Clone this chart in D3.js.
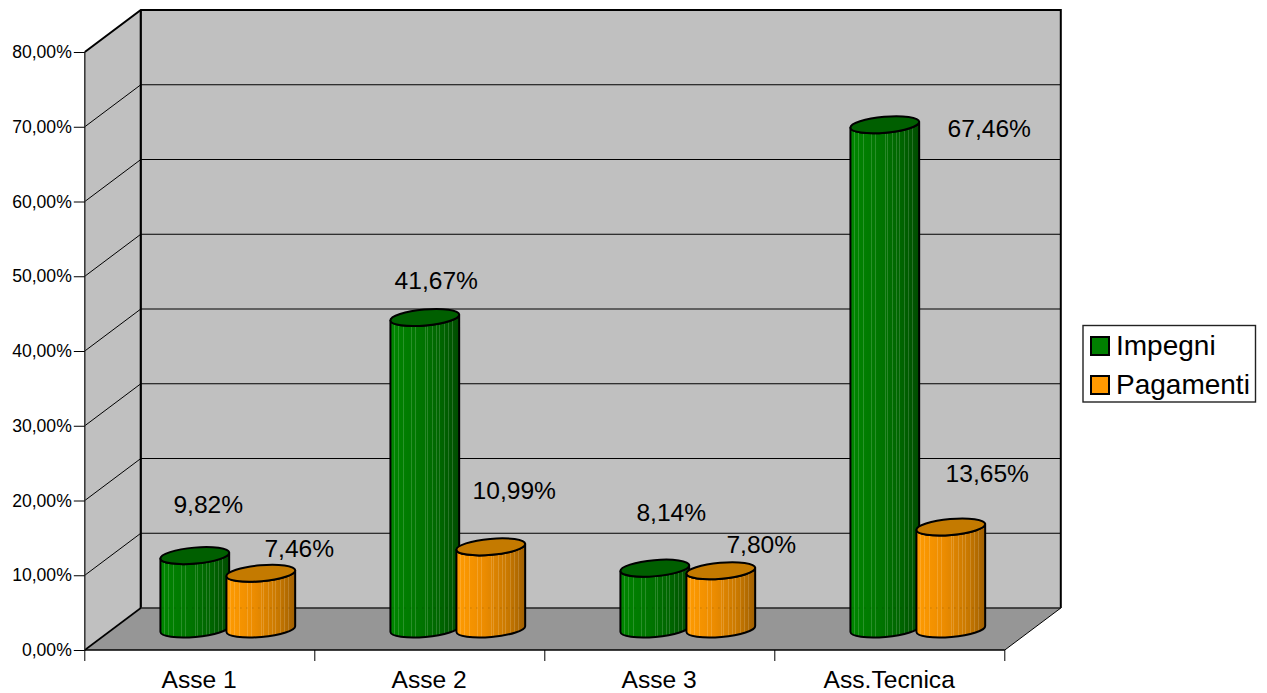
<!DOCTYPE html>
<html>
<head>
<meta charset="utf-8">
<script src="https://cdn.jsdelivr.net/npm/d3@7"></script>
<style>
  html, body { margin: 0; padding: 0; background: #fff; }
  svg { display: block; }
  text { font-family: "Liberation Sans", Arial, sans-serif; fill: #000; }
</style>
</head>
<body>
<svg id="chart" width="1267" height="693"></svg>
<script>
// Chart values
const categories = ["Asse 1", "Asse 2", "Asse 3", "Ass.Tecnica"];
const seriesNames = ["Impegni", "Pagamenti"];
const impegni = [9.82, 41.67, 8.14, 67.46];
const pagamenti = [7.46, 10.99, 7.80, 13.65];
const yTicks = [0, 10, 20, 30, 40, 50, 60, 70, 80];

// Hand-placed label offsets from the centre of each cylinder's top face
const impegniLabelNudge = [[13.5, -43], [11.5, -29], [16.5, -47], [104.5, 12]];
const pagamentiLabelNudge = [[38.5, -16], [23.5, -48], [40.5, -18], [36.5, -45]];

const width = 1267, height = 693;
const left = 84.8, right = 1004.8, top80 = 52, bottom0 = 650;
const depthX = 56, depthY = 42;
const barGap = 33, rx = 34.5, ry = 8, tilt = -5;

const svg = d3.select("#chart");
const locale = d3.formatLocale({ decimal: ",", thousands: ".", grouping: [3], currency: ["", "€"] });
const fmt = locale.format(".2f");
const pct = v => fmt(v) + "%";

const x = d3.scaleBand().domain(categories).range([left, right]);
const y = d3.scaleLinear().domain([0, 80]).range([bottom0, top80]);

// Gradients for the cylinder bodies
const defs = svg.append("defs");
function bodyGradient(id, stops) {
  const g = defs.append("linearGradient").attr("id", id);
  stops.forEach(([o, c]) => g.append("stop").attr("offset", o).attr("stop-color", c));
}
bodyGradient("bodyGreen", [[0, "#008600"], [0.45, "#007400"], [0.75, "#006400"], [1, "#004c00"]]);
bodyGradient("bodyOrange", [[0, "#ff9b00"], [0.4, "#ec8c00"], [0.75, "#c87800"], [1, "#a05f00"]]);

// Thin lighter facets running down each cylinder
const facets = [0.05, 0.11, 0.19, 0.3, 0.36, 0.5, 0.53, 0.6, 0.66, 0.71, 0.78, 0.84, 0.9];
const facetGradient = defs.append("linearGradient").attr("id", "facets");
facets.forEach(f => {
  [[f - 0.0001, 0], [f, 0.16], [f + 0.012, 0.16], [f + 0.0121, 0]].forEach(([o, a]) => {
    facetGradient.append("stop").attr("offset", o)
      .attr("stop-color", "#fff").attr("stop-opacity", a);
  });
});

// Back wall, side wall and floor
const bx0 = left + depthX, bx1 = right + depthX;
const poly = pts => "M" + pts.map(p => p.join(",")).join("L") + "Z";
const room = svg.append("g");
room.append("path").attr("d", poly([[bx0, y(80) - depthY], [bx1, y(80) - depthY], [bx1, y(0) - depthY], [bx0, y(0) - depthY]]))
  .attr("fill", "#c0c0c0");
room.append("path").attr("d", poly([[left, y(80)], [bx0, y(80) - depthY], [bx0, y(0) - depthY], [left, y(0)]]))
  .attr("fill", "#c0c0c0");
room.append("path").attr("d", poly([[left, y(0)], [bx0, y(0) - depthY], [bx1, y(0) - depthY], [right, y(0)]]))
  .attr("fill", "#969696");

// Gridlines across side wall and back wall
const grid = svg.append("g").attr("stroke", "#000").attr("stroke-width", 1).attr("fill", "none");
grid.selectAll("path").data(yTicks.slice(1, -1)).join("path")
  .attr("d", d => `M${left},${y(d)}L${bx0},${y(d) - depthY}L${bx1},${y(d) - depthY}`);

// Room edges
const edges = svg.append("g").attr("fill", "none").attr("stroke", "#000");
edges.append("path").attr("stroke-width", 2)
  .attr("d", `M${left},${y(80)}L${bx0},${y(80) - depthY}L${bx1},${y(80) - depthY}L${bx1},${y(0) - depthY}`);
edges.append("path").attr("stroke-width", 2.2)
  .attr("d", `M${bx0},${y(80) - depthY}L${bx0},${y(0) - depthY}`);
edges.append("path").attr("stroke-width", 1.6).attr("stroke", "#222")
  .attr("d", `M${bx0},${y(0) - depthY}L${bx1},${y(0) - depthY}`);
edges.append("path").attr("stroke-width", 1.6)
  .attr("d", `M${left},${y(0)}L${bx0},${y(0) - depthY}`);
edges.append("path").attr("stroke-width", 1)
  .attr("d", `M${right},${y(0)}L${bx1},${y(0) - depthY}`);

// Value axis
const yAxis = d3.axisLeft(y).tickValues(yTicks).tickSize(11).tickPadding(2).tickFormat(pct);
const yG = svg.append("g").attr("transform", `translate(${left},0)`).call(yAxis);
yG.select(".domain").attr("stroke", "#333").attr("stroke-width", 1.5).attr("d", `M0,${y(80)}V${y(0)}`);
yG.selectAll("text").style("font-size", "17.6px").attr("fill", "#000");
yG.selectAll("line").attr("stroke", "#000");

// Category axis: labels centred on each band, ticks on the band edges
const xAxis = d3.axisBottom(x).tickSize(0).tickPadding(21);
const xG = svg.append("g").attr("transform", `translate(0,${bottom0})`).call(xAxis);
xG.select(".domain").attr("stroke", "#000").attr("stroke-width", 1.5).attr("d", `M${left},0H${right}`);
xG.selectAll("text").style("font-size", "24.6px").attr("fill", "#000").attr("dx", "-0.6");
const edgeTicks = categories.map(c => x(c)).concat(right);
svg.append("g").selectAll("line").data(edgeTicks).join("line")
  .attr("x1", d => d).attr("x2", d => d)
  .attr("y1", bottom0).attr("y2", bottom0 + 11)
  .attr("stroke", "#000");

// Cylinders
const rad = tilt * Math.PI / 180;
const ex = rx * Math.cos(rad), ey = rx * Math.sin(rad);
const centerX = (c, s) => x(c) + x.bandwidth() / 2 + depthX / 2 + (s === 0 ? -barGap : barGap);
const baseY = y(0) - depthY / 2;
const topY = v => y(v) - depthY / 2;

const rows = [];
categories.forEach((c, i) => {
  rows.push({ c, s: 0, v: impegni[i], nudge: impegniLabelNudge[i] });
  rows.push({ c, s: 1, v: pagamenti[i], nudge: pagamentiLabelNudge[i] });
});

const bodyPath = d => {
  const cx = centerX(d.c, d.s), t = topY(d.v);
  return `M${cx - ex},${t - ey}L${cx - ex},${baseY - ey}`
    + `A${rx},${ry} ${tilt} 0 0 ${cx + ex},${baseY + ey}`
    + `L${cx + ex},${t + ey}`
    + `A${rx},${ry} ${tilt} 0 1 ${cx - ex},${t - ey}Z`;
};

const cyl = svg.append("g").selectAll("g").data(rows).join("g");
cyl.append("path").attr("d", bodyPath)
  .attr("fill", d => d.s === 0 ? "url(#bodyGreen)" : "url(#bodyOrange)");
cyl.append("path").attr("d", bodyPath).attr("fill", "url(#facets)");
// Faint trace of the back floor edge on each body
cyl.append("line")
  .attr("x1", d => centerX(d.c, d.s) - ex + 2).attr("x2", d => centerX(d.c, d.s) + ex - 2)
  .attr("y1", y(0) - depthY).attr("y2", y(0) - depthY)
  .attr("stroke", "#000").attr("stroke-opacity", 0.28).attr("stroke-dasharray", "1 5");
cyl.append("path").attr("d", bodyPath)
  .attr("fill", "none").attr("stroke", "#000").attr("stroke-width", 2).attr("stroke-linejoin", "round");
cyl.append("ellipse")
  .attr("cx", d => centerX(d.c, d.s)).attr("cy", d => topY(d.v))
  .attr("rx", rx).attr("ry", ry)
  .attr("transform", d => `rotate(${tilt} ${centerX(d.c, d.s)} ${topY(d.v)})`)
  .attr("fill", d => d.s === 0 ? "#005f00" : "#c47a00")
  .attr("stroke", "#000").attr("stroke-width", 2);

// Value labels
svg.append("g").selectAll("text").data(rows).join("text")
  .attr("x", d => centerX(d.c, d.s) + d.nudge[0])
  .attr("y", d => topY(d.v) + d.nudge[1])
  .attr("text-anchor", "middle")
  .style("font-size", "24.6px")
  .text(d => pct(d.v));

// Legend
const legend = svg.append("g");
legend.append("rect").attr("x", 1083).attr("y", 325.5).attr("width", 172.5).attr("height", 76.5)
  .attr("fill", "#fff").attr("stroke", "#222").attr("stroke-width", 1.4);
const legendColor = d3.scaleOrdinal().domain(seriesNames).range(["#008000", "#ff9900"]);
const legendY = d3.scalePoint().domain(seriesNames).range([346, 385]);
const item = legend.selectAll("g").data(seriesNames).join("g")
  .attr("transform", d => `translate(0,${legendY(d)})`);
item.append("rect").attr("x", 1091).attr("y", -9).attr("width", 18).attr("height", 18)
  .attr("fill", d => legendColor(d)).attr("stroke", "#000").attr("stroke-width", 2);
item.append("text").attr("x", 1116).attr("y", 9).style("font-size", "28px").text(d => d);
</script>
</body>
</html>
